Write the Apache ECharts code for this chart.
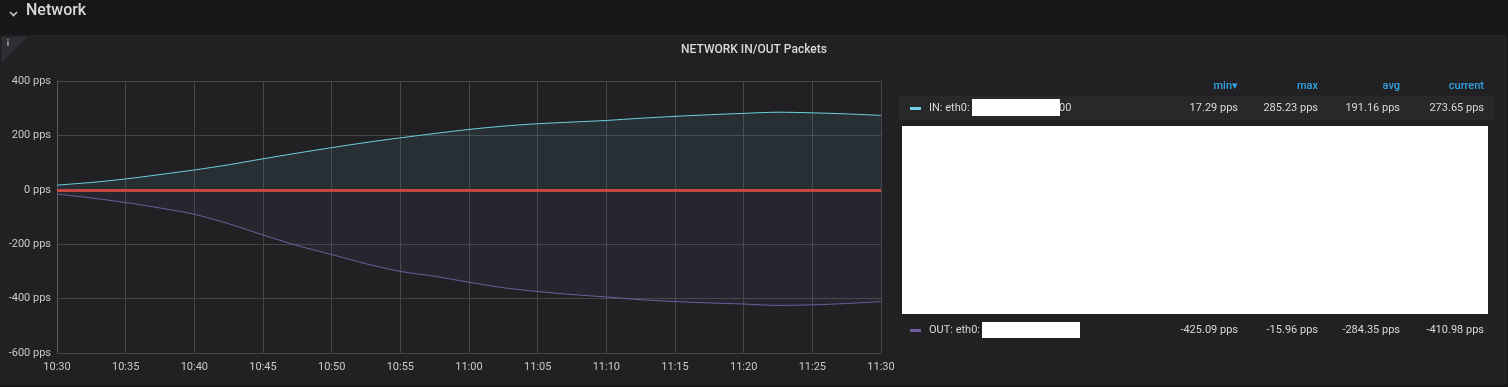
<!DOCTYPE html>
<html>
<head>
<meta charset="utf-8">
<script src="https://cdn.jsdelivr.net/npm/echarts@6/dist/echarts.min.js"></script>
<style>
  html, body { margin:0; padding:0; background:#161719; }
  #chart { width:1508px; height:387px; }
</style>
</head>
<body>
<div id="chart"></div>
<script>
// ---- data ----
const times = ['10:30:00','10:32:30','10:35:00','10:37:30','10:40:00','10:42:30','10:45:00','10:47:30',
  '10:50:00','10:52:30','10:55:00','10:57:30','11:00:00','11:02:30','11:05:00','11:07:30',
  '11:10:00','11:12:30','11:15:00','11:17:30','11:20:00','11:22:30','11:25:00','11:27:30','11:30:00'];
const inPackets = [17.29, 27, 40, 56, 73, 92, 114, 135, 155, 174, 191, 207, 222, 234, 243, 249,
  255, 263, 270, 276, 281, 285.23, 283, 279, 273.65];
const outPackets = [-15.96, -30, -47, -67, -90, -125, -166, -205, -238, -272, -300, -318, -340, -360, -374, -385,
  -394, -404, -411, -416, -420, -425.09, -423, -418, -410.98];
const yTicks = [-600, -400, -200, 0, 200, 400];
const legendHeaders = ['min▾', 'max', 'avg', 'current'];
const inStats = ['17.29 pps', '285.23 pps', '191.16 pps', '273.65 pps'];
const outStats = ['-425.09 pps', '-15.96 pps', '-284.35 pps', '-410.98 pps'];
const seriesNames = ['IN: eth0:', 'OUT: eth0:'];

// ---- helpers ----
function toMin(t) { const p = t.split(':').map(Number); return p[0]*60 + p[1] + (p[2]||0)/60; }
function fmtMin(v) { const h = Math.floor(v/60), m = Math.round(v - h*60); return h + ':' + (m<10?'0':'') + m; }
const inData = times.map((t,i) => [toMin(t), inPackets[i]]);
const outData = times.map((t,i) => [toMin(t), outPackets[i]]);

const FONT = 'Roboto, "Noto Sans", sans-serif';
const colRight = [1238, 1318, 1400, 1484];

const graphics = [
  { type:'rect', z:-10, silent:true, shape:{x:1, y:36, width:1505, height:348}, style:{fill:'#212124', stroke:'#2a2a2d', lineWidth:1} },
  // collapse chevron + row title
  { type:'polyline', shape:{points:[[10,12],[13.5,15.5],[17,12]]}, style:{stroke:'#c8c9ca', lineWidth:1.6, fill:null} },
  { type:'text', x:26, y:11, style:{text:'Network', fill:'#d8d9da', font:'500 16px '+FONT, textVerticalAlign:'middle'} },
  // info corner
  { type:'polygon', shape:{points:[[2,37],[27,37],[2,62]]}, style:{fill:'#2f2f33'} },
  { type:'text', x:8, y:44, style:{text:'i', fill:'#b0b0b4', font:'bold 9px '+FONT, textAlign:'center', textVerticalAlign:'middle'} },
  // title
  { type:'text', x:754, y:50, style:{text:'NETWORK IN/OUT Packets', fill:'#d8d9da', font:'500 12px '+FONT, textAlign:'center', textVerticalAlign:'middle'} },
  // legend row 1 background
  { type:'rect', shape:{x:899, y:96, width:595, height:24}, style:{fill:'#28282b'} },
  // swatches
  { type:'rect', shape:{x:910, y:107, width:11, height:3}, style:{fill:'#6ed0e0'} },
  { type:'rect', shape:{x:910, y:329, width:11, height:3}, style:{fill:'#705da0'} },
  // series labels
  { type:'text', x:929, y:108.5, style:{text:seriesNames[0], fill:'#d8d9da', font:'11px '+FONT, textVerticalAlign:'middle'} },
  { type:'text', x:1059, y:108.5, style:{text:'00', fill:'#d8d9da', font:'11px '+FONT, textVerticalAlign:'middle'} },
  { type:'text', x:929, y:330, style:{text:seriesNames[1], fill:'#d8d9da', font:'11px '+FONT, textVerticalAlign:'middle'} },
  // redaction boxes
  { type:'rect', shape:{x:972, y:99, width:88, height:17}, style:{fill:'#ffffff'} },
  { type:'rect', shape:{x:902, y:126, width:586, height:188}, style:{fill:'#ffffff'} },
  { type:'rect', shape:{x:982, y:322, width:98, height:16}, style:{fill:'#ffffff'} }
];
legendHeaders.forEach((h,i) => graphics.push({ type:'text', x:colRight[i], y:86.5,
  style:{text:h, fill:'#33a2e5', font:'500 11px '+FONT, textAlign:'right', textVerticalAlign:'middle'} }));
inStats.forEach((s,i) => graphics.push({ type:'text', x:colRight[i], y:108.5,
  style:{text:s, fill:'#d8d9da', font:'11px '+FONT, textAlign:'right', textVerticalAlign:'middle'} }));
outStats.forEach((s,i) => graphics.push({ type:'text', x:colRight[i], y:330,
  style:{text:s, fill:'#d8d9da', font:'11px '+FONT, textAlign:'right', textVerticalAlign:'middle'} }));

const chart = echarts.init(document.getElementById('chart'), null, {renderer:'canvas'});
chart.setOption({
  backgroundColor:'#161719',
  animation:false,
  textStyle:{fontFamily:FONT},
  grid:{left:57, right:627, top:81, bottom:34, containLabel:false},
  xAxis:{
    type:'value', min:toMin(times[0]), max:toMin(times[times.length-1]), interval:5,
    axisLine:{show:true, lineStyle:{color:'#58585c'}},
    axisTick:{show:false},
    splitLine:{show:true, lineStyle:{color:'#464649', width:1}},
    axisLabel:{color:'#c8c9ca', fontSize:11, margin:9, formatter:v => fmtMin(v), fontFamily:FONT}
  },
  yAxis:{
    type:'value', min:yTicks[0], max:yTicks[yTicks.length-1], interval:200,
    axisLine:{show:true, lineStyle:{color:'#58585c'}},
    axisTick:{show:false},
    splitLine:{show:true, lineStyle:{color:'#464649', width:1}},
    axisLabel:{color:'#c8c9ca', fontSize:11, margin:6, formatter:'{value} pps', fontFamily:FONT}
  },
  series:[
    { name:seriesNames[0], type:'line', data:inData, smooth:0.3, symbol:'none',
      lineStyle:{color:'#6ed0e0', width:1}, itemStyle:{color:'#6ed0e0'},
      areaStyle:{color:'rgba(110,190,230,0.12)', origin:0},
      markLine:{ silent:true, symbol:['none','none'], label:{show:false},
        lineStyle:{color:'#c4463f', width:3, type:'solid'}, data:[{yAxis:0}] },
      z:3 },
    { name:seriesNames[1], type:'line', data:outData, smooth:0.3, symbol:'none',
      lineStyle:{color:'#705da0', width:1}, itemStyle:{color:'#705da0'},
      areaStyle:{color:'rgba(112,93,170,0.11)', origin:0}, z:3 }
  ],
  graphic:graphics
});
</script>
</body>
</html>
